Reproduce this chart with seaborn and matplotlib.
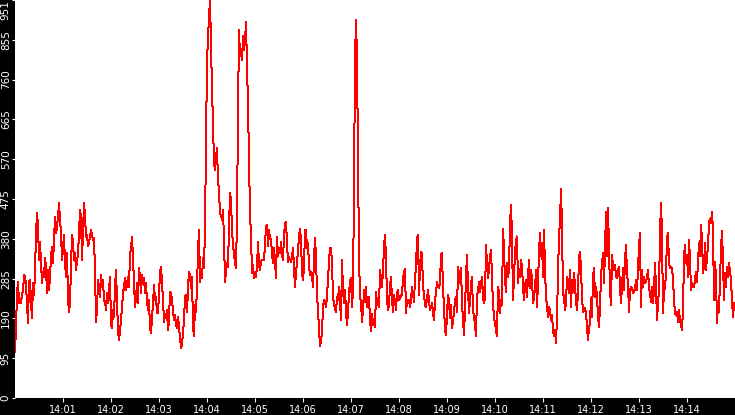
import matplotlib
matplotlib.use("Agg")
import matplotlib.pyplot as plt
import matplotlib.dates as mdates
import seaborn as sns
import numpy as np
import pandas as pd

# readings, one sample every 1.25 s from 14:00:00 to 14:15:00
part1 = [111, 166, 250, 278, 228, 230, 226, 250, 254, 294, 290, 270, 226, 178, 278, 282, 230, 190, 274, 246,
         302, 393, 441, 413, 330, 373, 322, 274, 302, 290, 334, 314, 250, 306, 258, 290, 338, 362, 322, 378,
         433, 393, 409, 433, 465, 425, 393, 330, 358, 390, 322, 290, 346, 238, 206, 226, 314, 390, 370, 330,
         346, 306, 326, 346, 393, 449, 433, 330, 401, 465, 437, 385, 390, 362, 370, 385, 401, 390, 378, 382,
         306, 182, 210, 282, 266, 242, 294, 266, 282, 234, 230, 210, 250, 226, 258, 290, 178, 166, 210, 194,
         266, 306, 234, 162, 139, 159, 186, 218, 250, 266, 286, 258, 270, 290, 266, 342, 358, 385, 334, 274,
         218, 238, 274, 226, 310, 290, 250, 294, 274, 286, 250, 274, 230, 210, 234, 166, 155, 190, 226, 270,
         234, 242, 202, 202, 250, 298, 314, 274, 234, 182, 198, 194, 210, 162, 186, 254, 250, 234, 206, 186,
         198, 178, 166, 194, 170, 143, 119, 127, 155, 186, 242, 246, 206, 262, 302, 294, 262, 290, 170, 147,
         222, 206, 266, 350, 401, 278, 298, 286, 334, 310, 409, 605, 808, 860, 911, 951, 848, 736, 656, 561,
         545, 577, 597, 521, 494, 441, 437, 425, 449, 378, 278, 302, 322, 314, 409, 489, 473, 401, 366, 346,
         322, 310, 433, 680, 879, 816, 832, 808, 864, 832]
part2 = [851, 899, 792, 700, 573, 440, 390, 298, 318, 286, 302, 290, 314, 373, 318, 306, 326, 330, 330, 330,
         366, 409, 413, 362, 401, 382, 378, 346, 322, 358, 330, 286, 385, 338, 354, 346, 373, 342, 330, 390,
         417, 421, 370, 326, 338, 330, 326, 338, 358, 310, 266, 302, 322, 354, 385, 405, 378, 298, 282, 314,
         401, 401, 358, 370, 314, 294, 302, 290, 266, 334, 382, 338, 250, 206, 166, 123, 139, 155, 218, 234,
         230, 218, 242, 286, 326, 358]
part3 = [358, 322, 242, 222, 214, 206, 242, 234, 266, 234, 186, 330, 258, 226, 258, 206, 174, 206, 250, 278,
         286, 218, 258, 505, 808, 903, 811, 569, 338, 242, 230, 182, 210, 258, 230, 266, 218, 230, 242, 186,
         159, 202, 174, 190, 170, 254, 222, 238, 218, 306, 282, 266, 306, 362, 390, 334, 238, 210, 222, 266,
         290, 234, 206, 246, 230, 210, 250, 258, 234, 238, 242, 250, 282, 302, 308, 202, 234, 226, 234, 218]
part4 = [234, 266, 250, 230, 286, 314, 382, 390, 246, 314, 350, 346, 262, 250, 222, 218, 238, 258, 230, 210,
         218, 226, 206, 186, 234, 250, 278, 266, 262, 278, 342, 346, 258, 222, 160, 151, 202, 246, 234, 190,
         222, 166, 186, 202, 234, 242, 206, 314, 274, 298, 310, 226, 186, 151, 214, 290, 342, 262, 202, 238,
         270, 290, 206, 198, 174, 147, 246, 254, 278, 254, 270, 290, 242, 226, 238, 366, 322, 286, 310]
part5 = [338, 354, 286, 222, 194, 178, 163, 147, 266, 254, 202, 234, 222, 405, 354, 282, 254, 322, 290, 306,
         417, 461, 386, 234, 290, 346, 378, 386, 274, 306, 290, 330, 314, 266, 234, 270, 282, 242, 290, 330,
         262, 306, 286, 226, 242, 262, 306, 218, 274, 350, 394, 338, 370, 290, 402, 306, 242, 218, 194, 218,
         210, 186, 198, 163, 147, 163, 131, 194, 298, 386, 425, 500, 406, 250, 242, 210, 226, 290, 282, 250]
part6 = [306, 218, 282, 254, 298, 266, 234, 210, 258, 334, 350, 306, 242, 206, 210, 214, 206, 170, 139, 170,
         178, 238, 194, 290, 310, 242, 266, 242, 194, 170, 218, 290, 322, 346, 274, 354, 445, 338, 453, 354,
         258, 222, 342, 314, 306, 318, 290, 286, 306, 314, 266, 226, 266, 310, 258, 330, 366, 298, 274, 206,
         258, 266, 262, 250, 254, 262, 282, 258, 310, 362, 394, 218, 306, 266, 290, 274, 278, 290, 306, 266]
part7 = [250, 230, 266, 226, 258, 322, 266, 186, 226, 258, 394, 465, 394, 202, 258, 262, 298, 382, 394, 322,
         310, 314, 310, 286, 234, 202, 198, 206, 182, 210, 186, 174, 163, 210, 338, 366, 322, 342, 290, 378,
         330, 258, 274, 266, 266, 282, 302, 278, 326, 370, 338, 413, 378, 298, 318, 370, 306, 338, 362, 421,
         429, 417, 445, 401, 234, 326, 290, 178, 226, 206, 286, 358, 398, 326, 234, 298, 266, 314, 290, 322,
         302, 282, 234, 194, 226, 214]

values = part1 + part2 + part3 + part4 + part5 + part6 + part7
times = pd.date_range("2024-01-01 14:00:00", periods=len(values), freq="1250ms")
df = pd.DataFrame({"time": times, "value": values})

y_max = 951
y_ticks = np.linspace(0, y_max, 11)
y_labels = [str(int(v)) for v in y_ticks]
x_ticks = pd.date_range("2024-01-01 14:01:00", "2024-01-01 14:14:00", freq="min")

fig = plt.figure(figsize=(7.35, 4.15), dpi=100, facecolor="black")
ax = fig.add_axes([15 / 735, 17 / 415, 720 / 735, 398 / 415])
ax.set_facecolor("white")

sns.lineplot(data=df, x="time", y="value", color="red", linewidth=0.72, ax=ax)
for line in ax.get_lines():
    line.set_antialiased(False)

ax.set_xlim(pd.Timestamp("2024-01-01 14:00:00"), pd.Timestamp("2024-01-01 14:15:00"))
ax.set_ylim(0, y_max)
ax.set_xticks(x_ticks)
ax.xaxis.set_major_formatter(mdates.DateFormatter("%H:%M"))
ax.set_yticks(y_ticks)
ax.set_yticklabels(y_labels)
ax.set_xlabel("")
ax.set_ylabel("")

for s in ax.spines.values():
    s.set_visible(False)

ax.tick_params(axis="x", colors="white", labelsize=7, length=3, width=0.8, pad=2)
ax.tick_params(axis="y", colors="white", labelsize=7.5, length=2.5, width=0.8, pad=0.5,
               labelrotation=90)
for lbl in ax.get_yticklabels():
    lbl.set_verticalalignment("center")
ax.get_yticklabels()[-1].set_verticalalignment("top")

fig.savefig("out.png", dpi=100, facecolor="black")
